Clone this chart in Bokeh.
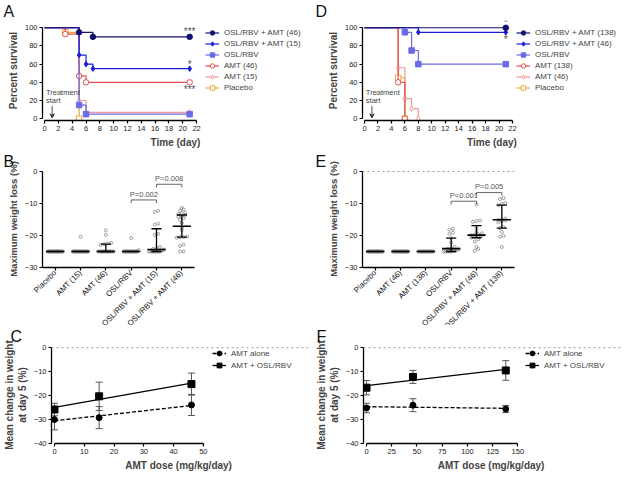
import math
import numpy as np
from bokeh.plotting import figure
from bokeh.layouts import column, row
from bokeh.models import (Range1d, FixedTicker, Legend, LegendItem, Label, Arrow,
                          VeeHead, Span, Whisker, ColumnDataSource, TeeHead)
from bokeh.core.properties import value
from bokeh.embed import file_html
from bokeh.resources import INLINE

FONT = "Liberation Sans"

# ---------------- Panel A: survival (day, percent) ----------------
a_labels = ["OSL/RBV + AMT (46)", "OSL/RBV + AMT (15)", "OSL/RBV", "AMT (46)", "AMT (15)", "Placebo"]
a_combo46_t = [0, 5, 7, 21]
a_combo46_s = [100, 95, 90, 90]
a_combo15_t = [0, 5, 6, 7, 21]
a_combo15_s = [100, 70, 60, 55, 55]
a_osl_t = [0, 5, 6, 21]
a_osl_s = [100, 15, 5, 5]
a_amt46_t = [0, 3, 5, 6, 21]
a_amt46_s = [100, 93, 47, 40, 40]
a_amt15_t = [0, 5, 6, 21]
a_amt15_s = [100, 20, 7, 7]
a_plac_t = [0, 3, 5]
a_plac_s = [100, 95, 0]
a_star_x = [21, 21, 21]
a_star_y = [96, 60, 32]
a_star_txt = ["***", "*", "***"]

# ---------------- Panel D: survival ----------------
d_labels = ["OSL/RBV + AMT (138)", "OSL/RBV + AMT (46)", "OSL/RBV", "AMT (138)", "AMT (46)", "Placebo"]
d_combo138_t = [0, 21]
d_combo138_s = [100, 100]
d_combo46_t = [0, 8, 21]
d_combo46_s = [100, 95, 95]
d_osl_t = [0, 6, 7, 8, 21]
d_osl_s = [100, 95, 75, 60, 60]
d_amt138_t = [0, 5, 6]
d_amt138_s = [100, 40, 0]
d_amt46_t = [0, 5, 6, 7, 8]
d_amt46_s = [100, 56, 22, 11, 0]
d_plac_t = [0, 5, 6]
d_plac_s = [100, 45, 0]
d_star_x = [21, 21]
d_star_y = [106, 87]
d_star_txt = ["*", "*"]

# ---------------- Panel B: maximum weight loss (%) ----------------
b_cats = ["Placebo", "AMT (15)", "AMT (46)", "OSL/RBV", "OSL/RBV + AMT (15)", "OSL/RBV + AMT (46)"]
b_placebo = [-25, -25, -25, -25, -25, -25, -25, -25, -25, -25, -25, -25, -25, -25, -25, -25, -25, -25, -25, -25]
b_amt15 = [-20.4, -25, -25, -25, -25, -25, -25, -25, -25, -25, -25, -25, -25, -25, -25, -25, -25, -25, -25, -25]
b_amt46 = [-18.4, -19.8, -22.3, -22.5, -22.7, -23.0, -25, -25, -25, -25, -25, -25, -25, -25, -25, -25, -25, -25, -25, -25]
b_osl = [-20.8, -24.6, -25, -25, -25, -25, -25, -25, -25, -25, -25, -25, -25, -25, -25, -25, -25, -25, -25]
b_combo15 = [-12.3, -12.6, -16.3, -16.6, -19.5, -19.8, -23.6, -23.9, -24.2, -24.4, -24.6, -24.8,
             -25, -25, -25, -25, -25, -25, -25, -25]
b_combo46 = [-11.4, -11.8, -12.3, -12.9, -13.0, -13.3, -13.6, -14.1, -14.2, -14.6, -15.1, -16.1,
             -17.6, -18.4, -20.3, -20.5, -20.5, -20.7, -22.8, -23.3, -25, -25]
b_median = [-25, -25, -25, -25, -24.4, -17.1]
b_q1 = [-25, -25, -25, -25, -25, -20.5]
b_q3 = [-25, -25, -22.7, -25, -17.9, -13.6]
b_brk_left = [3, 4]
b_brk_right = [4, 5]
b_brk_y = [-8.9, -4.0]
b_brk_text = ["P=0.002", "P=0.008"]

# ---------------- Panel E ----------------
e_cats = ["Placebo", "AMT (46)", "AMT (138)", "OSL/RBV", "OSL/RBV + AMT (46)", "OSL/RBV + AMT (138)"]
e_placebo = [-25, -25, -25, -25, -25, -25, -25, -25, -25, -25, -25, -25, -25, -25, -25, -25, -25, -25, -25, -25]
e_amt46 = [-25, -25, -25, -25, -25, -25, -25, -25, -25, -25, -25, -25, -25, -25, -25, -25, -25, -25, -25, -25]
e_amt138 = [-25, -25, -25, -25, -25, -25, -25, -25, -25, -25, -25, -25, -25, -25, -25, -25]
e_osl = [-17.9, -18.2, -19.1, -19.5, -20.8, -22.3, -23.5, -24.0, -24.1, -24.3, -24.5, -24.7, -24.9,
         -25, -25, -25, -25, -25]
e_combo46 = [-10.3, -15.3, -15.5, -15.7, -17.8, -18.9, -19.3, -19.6, -19.8, -19.9, -20.0, -20.1,
             -20.3, -20.6, -21.2, -21.9, -23.6, -24.2, -24.8]
e_combo138 = [-8.3, -8.6, -9.8, -10.1, -10.5, -14.7, -15.0, -15.1, -15.3, -15.5, -15.9, -17.4,
              -17.7, -18.9, -20.1, -20.4, -23.6]
e_median = [-25, -25, -25, -24.1, -19.9, -15.1]
e_q1 = [-25, -25, -25, -25, -20.7, -17.7]
e_q3 = [-25, -25, -25, -20.8, -16.9, -10.5]
e_brk_left = [3, 4]
e_brk_right = [4, 5]
e_brk_y = [-9.3, -6.6]
e_brk_text = ["P<0.001", "P=0.005"]

# ---------------- Panel C: mean change in weight at day 5 ----------------
c_dose = [0, 15, 46]
c_alone_mean = [-30.0, -29.2, -23.9]
c_alone_err = [4.3, 4.6, 4.4]
c_combo_mean = [-25.8, -20.3, -15.2]
c_combo_err = [2.6, 5.9, 4.6]

# ---------------- Panel F ----------------
f_dose = [0, 46, 138]
f_alone_mean = [-25.2, -24.0, -25.6]
f_alone_err = [2.0, 2.7, 1.5]
f_combo_mean = [-16.7, -12.2, -9.5]
f_combo_err = [3.0, 2.7, 4.1]

NAVY = "#10106e"
BLUE = "#1c1cd8"
LBLUE = "#6b6be8"
RED = "#e0504e"
PINK = "#f09a98"
ORANGE = "#f2a33a"


def style_axes(p):
    for ax in (p.xaxis[0], p.yaxis[0]):
        ax.axis_line_width = 1.3
        ax.axis_line_color = "black"
        ax.major_tick_line_width = 1.2
        ax.major_tick_line_color = "black"
        ax.major_tick_in = 0
        ax.major_tick_out = 3
        ax.minor_tick_line_color = None
        ax.major_label_text_font = FONT
        ax.major_label_text_font_size = "7.5px"
        ax.major_label_text_color = "#222222"
        ax.axis_label_text_font = FONT
        ax.axis_label_text_font_size = "10px"
        ax.axis_label_text_font_style = "bold"
        ax.axis_label_standoff = 3
        ax.major_label_standoff = 2
    p.xgrid.visible = False
    p.ygrid.visible = False
    p.outline_line_color = None


def set_letter(p, txt, bl, standoff):
    p.title.text = txt
    p.title.text_font = FONT
    p.title.text_font_size = "16px"
    p.title.text_font_style = "normal"
    p.title.text_color = "#111111"
    p.title.align = "left"
    p.title.offset = -(bl - 3)
    p.title.standoff = standoff


def make_legend(p, items, vx, top_gap, fh, rowh):
    n = len(items)
    h = n * rowh
    leg = Legend(items=items, location=(vx, fh - top_gap - h), label_text_font=FONT,
                 label_text_font_size="8px", glyph_width=14, glyph_height=rowh, label_height=rowh,
                 spacing=0, padding=0, margin=0, border_line_color=None,
                 background_fill_alpha=0, label_standoff=5)
    p.add_layout(leg)


def survival(series, star_x, star_y, star_txt, letter, W, H, bl, bt, bb, xmax, leg_x, leg_top):
    fh = H - bt - bb
    p = figure(width=W, height=H, output_backend="svg", toolbar_location=None,
               x_range=Range1d(-0.3, xmax), y_range=Range1d(-2, 108),
               min_border_left=bl, min_border_right=4, min_border_top=bt, min_border_bottom=bb)
    style_axes(p)
    set_letter(p, letter, bl, 1)
    p.xaxis.ticker = FixedTicker(ticks=list(range(0, 23, 2)))
    p.yaxis.ticker = FixedTicker(ticks=list(range(0, 101, 20)))
    p.xaxis.bounds = (0, 22)
    p.yaxis.bounds = (0, 100)
    p.xaxis.axis_label = "Time (day)"
    p.yaxis.axis_label = "Percent survival"
    rends = {}
    for name, t, s, col, mk, fill in reversed(series):
        lr = p.step(t, s, mode="after", line_color=col, line_width=1.2)
        sr = p.scatter(t[1:], s[1:], marker=mk, size=5.5, line_color=col, fill_color=fill, line_width=1.0)
        rends[name] = (lr, sr)
    items = [LegendItem(label=name, renderers=list(rends[name])) for name, *_ in series]
    make_legend(p, items, leg_x, leg_top, fh, 11)
    p.text(star_x, star_y, text=star_txt, text_align="center", text_baseline="middle",
           text_font=value(FONT), text_font_size="10px", text_color="#555555")
    p.add_layout(Label(x=0.2, y=29, text="Treatment", text_font=FONT, text_font_size="7.5px",
                       text_color="#444444", text_baseline="middle"))
    p.add_layout(Label(x=0.2, y=20, text="start", text_font=FONT, text_font_size="7.5px",
                       text_color="#444444", text_baseline="middle"))
    p.add_layout(Arrow(x_start=1.1, y_start=14, x_end=1.1, y_end=1, line_width=0.8, line_color="#222222",
                       end=VeeHead(size=4, fill_color="#222222", line_color="#222222")))
    return p


def swarm_offsets(vals):
    vals = np.asarray(vals, float)
    order = np.argsort(vals)
    offs = np.zeros(len(vals))
    groups = []
    cur = [order[0]]
    for k in order[1:]:
        if abs(vals[k] - vals[cur[0]]) < 0.7:
            cur.append(k)
        else:
            groups.append(cur)
            cur = [k]
    groups.append(cur)
    for g in groups:
        n = len(g)
        if n == 1:
            continue
        step = min(0.14, 0.6 / (n - 1))
        for j, k in enumerate(g):
            offs[k] = (j - (n - 1) / 2) * step
    return offs


def scatter_panel(cats, groups, med, q1, q3, bl_i, br_i, by, btxt, letter, W, H, bl, br, bt, bb,
                  zero_line):
    p = figure(width=W, height=H, output_backend="svg", toolbar_location=None,
               x_range=Range1d(0, 6), y_range=Range1d(-30, 0.3),
               min_border_left=bl, min_border_right=br, min_border_top=bt, min_border_bottom=bb)
    style_axes(p)
    set_letter(p, letter, bl, 1)
    ticks = [i + 0.5 for i in range(len(cats))]
    p.xaxis.ticker = FixedTicker(ticks=ticks)
    p.xaxis.major_label_overrides = {t: c for t, c in zip(ticks, cats)}
    p.xaxis.major_label_orientation = math.pi / 4
    p.xaxis.major_label_text_font_size = "7.8px"
    p.xaxis.major_label_text_color = "#111111"
    p.xaxis.major_label_standoff = 1
    p.yaxis.ticker = FixedTicker(ticks=[-30, -20, -10, 0])
    p.yaxis.bounds = (-30, 0)
    p.yaxis.axis_label = "Maximum weight loss (%)"
    p.yaxis.axis_label_text_font_size = "9.5px"
    if zero_line:
        p.add_layout(Span(location=0, dimension="width", line_color="#999999", line_dash="2 3", line_width=1))
    for i, g in enumerate(groups):
        xs = i + 0.5 + swarm_offsets(g)
        p.scatter(xs, g, marker="circle", size=3.0, line_color="#666666", fill_color=None, line_width=0.6)
    cx = np.arange(len(cats)) + 0.5
    p.segment(cx - 0.36, med, cx + 0.36, med, line_color="black", line_width=1.6)
    has = [i for i in range(len(cats)) if q1[i] != q3[i]]
    hx = cx[has]
    h1 = [q1[i] for i in has]
    h3 = [q3[i] for i in has]
    p.segment(hx, h1, hx, h3, line_color="black", line_width=1.3)
    p.segment(hx - 0.2, h1, hx + 0.2, h1, line_color="black", line_width=1.3)
    p.segment(hx - 0.2, h3, hx + 0.2, h3, line_color="black", line_width=1.3)
    for a, b, y, t in zip(bl_i, br_i, by, btxt):
        x0, x1 = a + 0.5, b + 0.5
        p.line([x0, x0, x1, x1], [y - 1.0, y, y, y - 1.0], line_color="#666666", line_width=1)
        p.text([(x0 + x1) / 2], [y + 0.4], text=[t], text_align="center", text_baseline="bottom",
               text_font=value(FONT), text_font_size="7.5px", text_color="#555555")
    return p


def dose_panel(dose, am, ae, cm, ce, xmax, xend, xticks, letter, W, H, bl, bt, bb, leg_x):
    fh = H - bt - bb
    pad = xmax * 0.02
    p = figure(width=W, height=H, output_backend="svg", toolbar_location=None,
               x_range=Range1d(-pad, xend), y_range=Range1d(-40, 0.5),
               min_border_left=bl, min_border_right=4, min_border_top=bt, min_border_bottom=bb)
    style_axes(p)
    set_letter(p, letter, bl, 3)
    p.xaxis.ticker = FixedTicker(ticks=xticks)
    p.xaxis.bounds = (0, xmax)
    p.yaxis.ticker = FixedTicker(ticks=[-40, -30, -20, -10, 0])
    p.yaxis.bounds = (-40, 0)
    p.xaxis.axis_label = "AMT dose  (mg/kg/day)"
    p.yaxis.axis_label = "Mean change in weight\nat day 5 (%)"
    p.add_layout(Span(location=0, dimension="width", line_color="#999999", line_dash="2 3", line_width=1))
    d = np.array(dose, float)
    xl = np.array([0, d.max()])
    ka = np.polyfit(d, am, 1)
    kc = np.polyfit(d, cm, 1)
    for m, e in ((am, ae), (cm, ce)):
        src = ColumnDataSource(dict(x=d, lo=np.array(m) - np.array(e), hi=np.array(m) + np.array(e)))
        p.add_layout(Whisker(source=src, base="x", lower="lo", upper="hi", dimension="height",
                             line_color="#555555", line_width=1,
                             upper_head=TeeHead(size=7, line_color="#555555", line_width=1),
                             lower_head=TeeHead(size=7, line_color="#555555", line_width=1)))
    la = p.line(xl, np.polyval(ka, xl), line_color="black", line_width=1.3, line_dash="4 2")
    sa = p.scatter(d, am, marker="circle", size=6, color="black")
    lc = p.line(xl, np.polyval(kc, xl), line_color="black", line_width=1.3)
    sc = p.scatter(d, cm, marker="square", size=7, color="black")
    make_legend(p, [LegendItem(label="AMT alone", renderers=[la, sa]),
                    LegendItem(label="AMT + OSL/RBV", renderers=[lc, sc])], leg_x, 2, fh, 12)
    return p


a_series = [
    (a_labels[0], a_combo46_t, a_combo46_s, NAVY, "circle", NAVY),
    (a_labels[1], a_combo15_t, a_combo15_s, BLUE, "diamond", BLUE),
    (a_labels[2], a_osl_t, a_osl_s, LBLUE, "square", LBLUE),
    (a_labels[3], a_amt46_t, a_amt46_s, RED, "circle", "white"),
    (a_labels[4], a_amt15_t, a_amt15_s, PINK, "diamond", "white"),
    (a_labels[5], a_plac_t, a_plac_s, ORANGE, "square", "white"),
]
d_series = [
    (d_labels[0], d_combo138_t, d_combo138_s, NAVY, "circle", NAVY),
    (d_labels[1], d_combo46_t, d_combo46_s, BLUE, "diamond", BLUE),
    (d_labels[2], d_osl_t, d_osl_s, LBLUE, "square", LBLUE),
    (d_labels[3], d_amt138_t, d_amt138_s, RED, "circle", "white"),
    (d_labels[4], d_amt46_t, d_amt46_s, PINK, "diamond", "white"),
    (d_labels[5], d_plac_t, d_plac_s, ORANGE, "square", "white"),
]

H1, H2, H3 = 150, 196, 149
pa = survival(a_series, a_star_x, a_star_y, a_star_txt, "A", 312, H1, 42, 16, 29, 38.2, 163, 12)
pd = survival(d_series, d_star_x, d_star_y, d_star_txt, "D", 313, H1, 50, 16, 29, 38.2, 154, 12)
pb = scatter_panel(b_cats, [b_placebo, b_amt15, b_amt46, b_osl, b_combo15, b_combo46],
                   b_median, b_q1, b_q3, b_brk_left, b_brk_right, b_brk_y, b_brk_text, "B",
                   312, H2, 42, 118, 16, 79, False)
pe = scatter_panel(e_cats, [e_placebo, e_amt46, e_amt138, e_osl, e_combo46, e_combo138],
                   e_median, e_q1, e_q3, e_brk_left, e_brk_right, e_brk_y, e_brk_text, "E",
                   313, H2, 50, 111, 16, 79, True)
pc = dose_panel(c_dose, c_alone_mean, c_alone_err, c_combo_mean, c_combo_err, 50, 85.3,
                [0, 10, 20, 30, 40, 50], "C", 312, H3, 44, 22, 29, 161)
pf = dose_panel(f_dose, f_alone_mean, f_alone_err, f_combo_mean, f_combo_err, 150, 252.7,
                [0, 25, 50, 75, 100, 125, 150], "F", 313, H3, 50, 22, 29, 162)

layout = column(row(pa, pd), row(pb, pe), row(pc, pf, margin=(-22, 0, 0, 0)))
open("out.html", "w").write(file_html(layout, INLINE))
